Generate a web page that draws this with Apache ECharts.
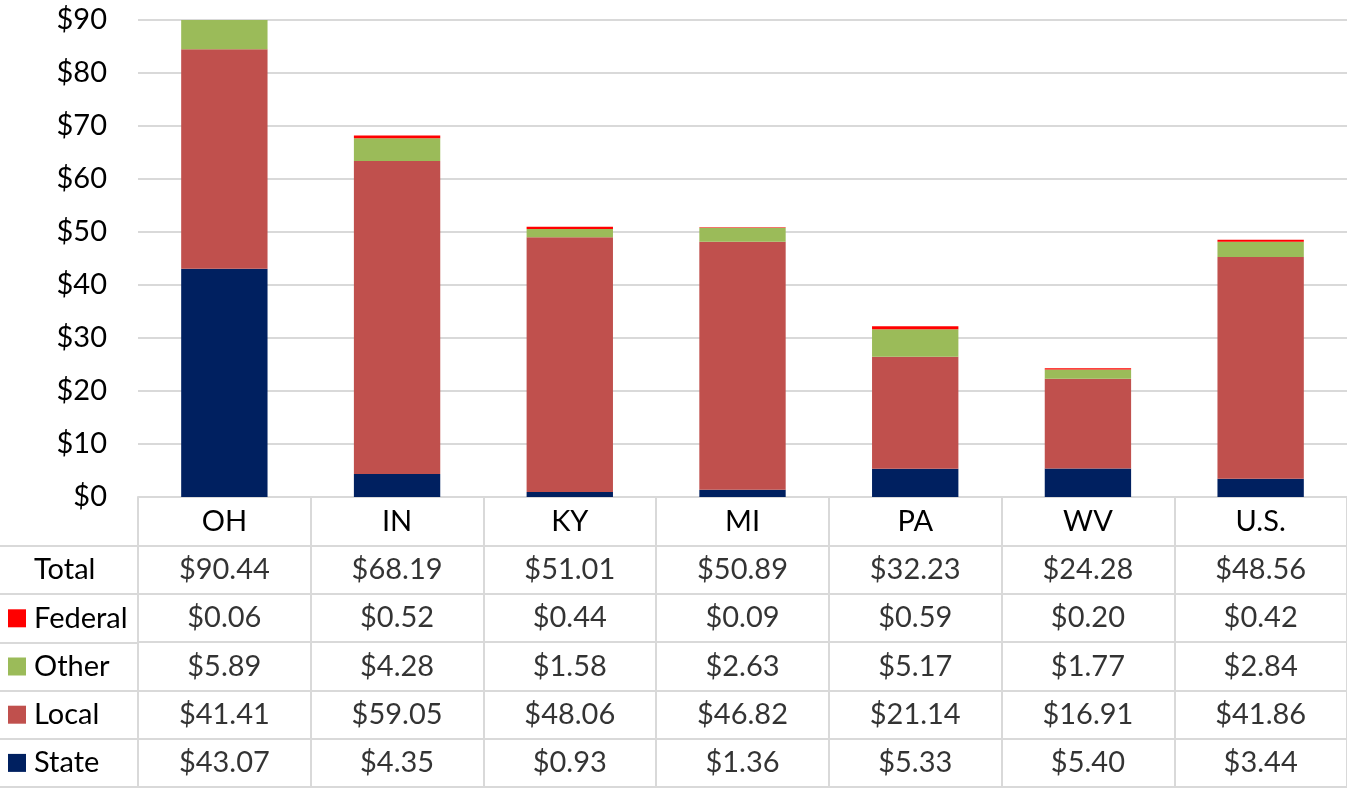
<!DOCTYPE html>
<html><head><meta charset="utf-8">
<script src="https://cdn.jsdelivr.net/npm/echarts@6/dist/echarts.min.js"></script>
<style>html,body{margin:0;padding:0;background:#fff}#c{width:1347px;height:788px}</style>
</head><body><div id="c"></div>
<script>
const categories = ['OH','IN','KY','MI','PA','WV','U.S.'];
const state   = [43.07, 4.35, 0.93, 1.36, 5.33, 5.40, 3.44];
const local   = [41.41, 59.05, 48.06, 46.82, 21.14, 16.91, 41.86];
const other   = [5.89, 4.28, 1.58, 2.63, 5.17, 1.77, 2.84];
const federal = [0.06, 0.52, 0.44, 0.09, 0.59, 0.20, 0.42];
const total   = [90.44, 68.19, 51.01, 50.89, 32.23, 24.28, 48.56];
const rowNames = ['Total', 'Federal', 'Other', 'Local', 'State'];
const yMin = 0, yMax = 90, yStep = 10;

const FONT = 'Lato';
const FS = 29;
const GRID = '#d9d9d9';
const colors = { State: '#002060', Local: '#C0504D', Other: '#9BBB59', Federal: '#FF0000' };
const rowData = { Total: total, Federal: federal, Other: other, Local: local, State: state };
const money = v => '$' + v.toFixed(2);

const tableRows = [''].concat(rowNames);
const cellData = [];
rowNames.forEach((r, ri) => {
  rowData[r].forEach((v, ci) => cellData.push([ci, ri + 1, money(v)]));
});

const chart = echarts.init(document.getElementById('c'), null, { renderer: 'canvas' });
const barSeries = (name, data) => ({
  name, type: 'bar', stack: 'all', data, barWidth: '50%',
  xAxisIndex: 0, yAxisIndex: 0, itemStyle: { color: colors[name] }, clip: true
});

chart.setOption({
  animation: false,
  textStyle: { fontFamily: FONT },
  grid: [
    { left: 138, top: 20, width: 1209, height: 477 },
    { left: 138, top: 497, width: 1209, height: 290 },
    { left: 0, top: 546, width: 138, height: 241 }
  ],
  xAxis: [
    { type: 'category', gridIndex: 0, data: categories,
      axisLine: { lineStyle: { color: GRID, width: 2 } }, axisTick: { show: false },
      axisLabel: { fontFamily: FONT, fontSize: FS, color: '#000', margin: 11, lineHeight: 28 } },
    { type: 'category', gridIndex: 1, data: categories, boundaryGap: true,
      axisLine: { show: false }, axisTick: { show: false }, axisLabel: { show: false },
      splitLine: { show: true, lineStyle: { color: GRID, width: 2 } } },
    { type: 'value', gridIndex: 2, show: false, min: 0, max: 1 }
  ],
  yAxis: [
    { type: 'value', gridIndex: 0, min: yMin, max: yMax, interval: yStep,
      axisLine: { show: false }, axisTick: { show: false },
      axisLabel: { fontFamily: FONT, fontSize: FS, color: '#000', margin: 31, formatter: v => '$' + v },
      splitLine: { lineStyle: { color: GRID, width: 2 } } },
    { type: 'category', gridIndex: 1, data: tableRows, inverse: true,
      axisLine: { show: false }, axisTick: { show: false }, axisLabel: { show: false },
      splitLine: { show: true, lineStyle: { color: GRID, width: 2 } } },
    { type: 'category', gridIndex: 2, data: rowNames, inverse: true, position: 'left',
      axisLine: { show: false }, axisTick: { show: false },
      splitLine: { show: true, lineStyle: { color: GRID, width: 2 } },
      axisLabel: { inside: true, margin: 8, color: '#000', fontFamily: FONT, fontSize: FS,
        formatter: v => (v === 'Total' ? '{blank|}' : '{' + v + '|}') + '{t|' + v + '}',
        rich: {
          blank: { width: 18, height: 18 },
          Federal: { width: 18, height: 18, backgroundColor: colors.Federal },
          Other: { width: 18, height: 18, backgroundColor: colors.Other },
          Local: { width: 18, height: 18, backgroundColor: colors.Local },
          State: { width: 18, height: 18, backgroundColor: colors.State },
          t: { fontFamily: FONT, fontSize: FS, color: '#000', padding: [0, 0, 0, 8] }
        } } }
  ],
  series: [
    barSeries('State', state),
    barSeries('Local', local),
    barSeries('Other', other),
    barSeries('Federal', federal),
    { type: 'scatter', xAxisIndex: 1, yAxisIndex: 1, data: cellData, symbolSize: 1,
      itemStyle: { color: 'rgba(0,0,0,0)' }, silent: true,
      label: { show: true, position: 'inside', formatter: p => p.value[2],
        fontFamily: FONT, fontSize: FS, color: '#000' } }
  ]
});
</script>
</body></html>
